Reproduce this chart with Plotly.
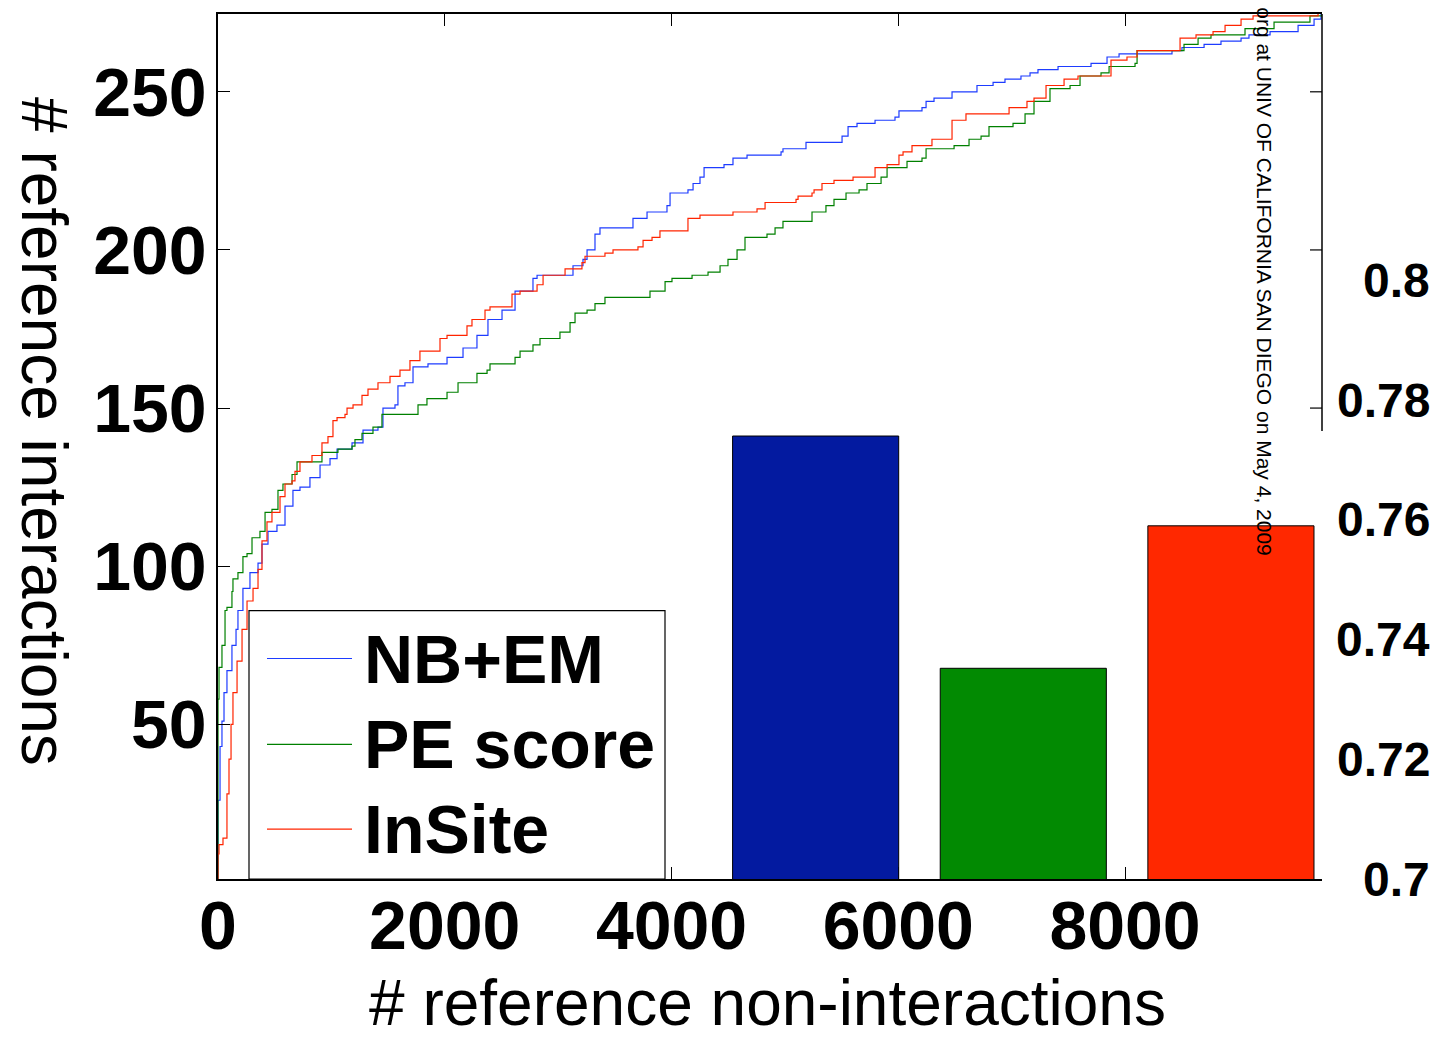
import plotly.graph_objects as go

# ---------------- data ----------------
nbem_x = [0, 0, 18, 35, 53, 79, 123, 159, 176, 220,
          282, 353, 388, 441, 520, 591, 661, 723, 811, 900,
          988, 1050, 1182, 1279, 1411, 1455, 1561, 1587, 1649, 1720,
          1852, 2020, 2161, 2284, 2381, 2505, 2620, 2778, 2814, 3043,
          3131, 3219, 3255, 3325, 3369, 3607, 3660, 3784, 3960, 3987,
          4145, 4190, 4251, 4287, 4463, 4542, 4666, 4966, 4983, 5186,
          5398, 5504, 5557, 5636, 5777, 5795, 5971, 6006, 6139, 6209,
          6245, 6315, 6474, 6624, 6694, 6836, 6941, 7082, 7162, 7232,
          7374, 7409, 7620, 7700, 7841, 7947, 8344, 8414, 8502, 8697,
          8846, 9023, 9093, 9279, 9526, 9667, 9728]
nbem_y = [0, 26, 43, 51, 60, 67, 75, 80, 86, 93,
          98, 101, 107, 111, 113, 119, 124, 125, 128, 132,
          134, 137, 139, 143, 144, 150, 151, 157, 158, 163,
          164, 166, 169, 173, 178, 181, 187, 191, 192, 192,
          195, 197, 200, 205, 207, 207, 210, 212, 214, 218,
          219, 221, 223, 226, 227, 229, 230, 231, 232, 234,
          234, 236, 239, 240, 240, 241, 242, 244, 244, 245,
          247, 248, 250, 250, 252, 253, 254, 255, 256, 257,
          257, 258, 258, 259, 261, 262, 262, 263, 264, 265,
          266, 267, 268, 269, 271, 273, 275]

pe_x = [0, 0, 9, 35, 62, 79, 123, 132, 176, 220,
        256, 300, 370, 415, 476, 529, 573, 653, 697, 882,
        917, 1058, 1182, 1208, 1270, 1358, 1367, 1446, 1738, 1764,
        1843, 2002, 2020, 2117, 2249, 2284, 2373, 2399, 2558, 2620,
        2664, 2778, 2840, 3016, 3105, 3149, 3255, 3325, 3413, 3607,
        3784, 3810, 3916, 3943, 4004, 4181, 4251, 4322, 4428, 4498,
        4578, 4648, 4842, 4913, 4983, 5204, 5239, 5362, 5433, 5539,
        5654, 5724, 5848, 5901, 6077, 6209, 6245, 6492, 6624, 6730,
        6800, 7012, 7118, 7197, 7338, 7515, 7603, 7788, 7859, 8088,
        8106, 8379, 8520, 8644, 8758, 9023, 9058, 9314, 9543, 9631,
        9702, 9737]
pe_y = [0, 58, 68, 75, 86, 87, 92, 96, 98, 103,
        104, 109, 111, 117, 118, 124, 126, 129, 133, 133,
        136, 137, 138, 140, 142, 142, 144, 148, 148, 151,
        153, 153, 155, 158, 158, 161, 162, 164, 164, 166,
        168, 170, 172, 174, 177, 180, 181, 183, 185, 185,
        185, 187, 187, 190, 191, 192, 192, 193, 195, 197,
        200, 204, 205, 207, 209, 209, 212, 214, 216, 218,
        219, 221, 223, 226, 228, 229, 232, 233, 235, 236,
        239, 240, 243, 247, 251, 252, 255, 256, 258, 259,
        263, 263, 265, 267, 268, 268, 270, 272, 272, 274,
        274, 275]

insite_x = [0, 0, 9, 44, 79, 97, 115, 132, 168, 212,
            256, 309, 353, 388, 432, 476, 547, 591, 653, 679,
            723, 811, 829, 882, 917, 970, 1014, 1050, 1120, 1138,
            1191, 1270, 1323, 1411, 1517, 1605, 1693, 1781, 1931, 1958,
            2020, 2161, 2196, 2240, 2311, 2355, 2399, 2487, 2593, 2664,
            2734, 2814, 2867, 3034, 3061, 3131, 3210, 3237, 3396, 3413,
            3484, 3678, 3704, 3749, 3828, 3898, 4075, 4145, 4251, 4525,
            4542, 4754, 4825, 4913, 5098, 5116, 5239, 5257, 5327, 5433,
            5601, 5742, 5795, 5901, 6006, 6042, 6121, 6227, 6297, 6421,
            6474, 6597, 6906, 6977, 7135, 7197, 7303, 7462, 7585, 7788,
            7876, 8017, 8106, 8344, 8485, 8626, 8776, 8882, 9023, 9129,
            9279, 9702]
insite_y = [0, 9, 12, 14, 28, 39, 50, 60, 70, 80,
            89, 93, 99, 108, 114, 117, 122, 126, 127, 130,
            133, 133, 135, 135, 139, 141, 146, 147, 148, 150,
            151, 154, 156, 158, 160, 162, 165, 168, 168, 172,
            173, 173, 176, 178, 178, 181, 182, 182, 186, 187,
            187, 189, 192, 192, 194, 194, 196, 198, 198, 199,
            200, 200, 201, 203, 204, 206, 206, 210, 211, 211,
            212, 213, 215, 215, 216, 217, 218, 219, 221, 222,
            223, 223, 226, 227, 230, 231, 233, 233, 235, 235,
            241, 243, 243, 245, 247, 248, 252, 254, 255, 255,
            260, 261, 263, 263, 267, 268, 269, 271, 273, 274,
            274, 275]

method_names = ["NB+EM", "PE score", "InSite"]
auc_values = [0.774, 0.7352, 0.759]
bar_positions = [1, 2, 3]

x_ticks = [0, 2000, 4000, 6000, 8000]
y_ticks = [50, 100, 150, 200, 250]
auc_ticks = [0.7, 0.72, 0.74, 0.76, 0.78, 0.8]

line_colors = ["#1e3cff", "#008000", "#ff2400"]
bar_colors = ["#031aa0", "#028a02", "#ff2800"]

watermark = "org at UNIV OF CALIFORNIA SAN DIEGO on May 4, 2009"

# ---------------- geometry ----------------
W, H = 1441, 1039
L_PX, R_PX, T_PX, B_PX = 218, 1322, 12, 879
PW = R_PX - L_PX
PH = B_PX - T_PX


def fx(xp):
    return (xp - L_PX) / PW


def fy(yp):
    return (B_PX - yp) / PH


FONT = "Liberation Sans, Arial, Helvetica, sans-serif"

fig = go.Figure()

for xs, ys, c, n in [(nbem_x, nbem_y, line_colors[0], method_names[0]),
                     (pe_x, pe_y, line_colors[1], method_names[1]),
                     (insite_x, insite_y, line_colors[2], method_names[2])]:
    fig.add_trace(go.Scatter(x=xs, y=ys, mode="lines", name=n,
                             line=dict(color=c, width=1.2, shape="hv"),
                             showlegend=False, xaxis="x", yaxis="y",
                             hoverinfo="skip"))

fig.add_trace(go.Bar(x=bar_positions, y=auc_values, width=0.8,
                     marker=dict(color=bar_colors, line=dict(color="black", width=1)),
                     xaxis="x2", yaxis="y2", showlegend=False))

fig.update_layout(
    width=W, height=H,
    margin=dict(l=L_PX, r=W - R_PX, t=T_PX, b=H - B_PX),
    paper_bgcolor="white", plot_bgcolor="rgba(0,0,0,0)",
    font=dict(family=FONT, color="black"),
    xaxis=dict(domain=[0, 1], range=[0, 9737], tickvals=x_ticks,
               ticks="inside", ticklen=12, tickwidth=1.2, tickcolor="black",
               showline=True, linecolor="black", linewidth=1.5, mirror="ticks",
               showgrid=False, zeroline=False, ticklabelstandoff=-13,
               tickfont=dict(size=68, weight="bold", family=FONT)),
    yaxis=dict(domain=[0, 1], range=[1.1, 274.6], tickvals=y_ticks,
               ticks="inside", ticklen=12, tickwidth=1.2, tickcolor="black",
               showline=True, linecolor="black", linewidth=1.5,
               showgrid=False, zeroline=False, ticklabelstandoff=-4,
               tickfont=dict(size=68, weight="bold", family=FONT)),
    xaxis2=dict(domain=[fx(722), 1], anchor="y2", range=[0.549, 3.4386],
                visible=False),
    yaxis2=dict(domain=[0, 1], anchor="x2", range=[0.7, 0.7 + PH / 6000],
                visible=False),
)

shapes = []
# right border of the main axes (upper part) and its ticks
shapes.append(dict(type="line", xref="paper", yref="paper", x0=1, x1=1,
                   y0=fy(430), y1=1, line=dict(color="black", width=1.5)))
for v in [150, 200, 250]:
    shapes.append(dict(type="line", xref="paper", yref="y", x0=fx(1310), x1=1,
                       y0=v, y1=v, line=dict(color="black", width=1.2)))
# legend box
shapes.append(dict(type="rect", xref="paper", yref="paper", x0=fx(249), x1=fx(665),
                   y0=0, y1=fy(610), line=dict(color="black", width=1.2),
                   fillcolor="white", layer="above"))
legend_rows = [658, 744, 829]
for c, r in zip(line_colors, legend_rows):
    shapes.append(dict(type="line", xref="paper", yref="paper", x0=fx(267), x1=fx(352),
                       y0=fy(r), y1=fy(r), line=dict(color=c, width=1.2)))

annotations = []
for n, r in zip(method_names, legend_rows):
    annotations.append(dict(text=n, xref="paper", yref="paper", x=fx(362), y=fy(r),
                            xanchor="left", yanchor="middle", showarrow=False,
                            font=dict(size=68, weight="bold", family=FONT)))
for v in auc_ticks:
    annotations.append(dict(text=f"{v:g}", xref="paper", yref="y2", x=fx(1432), y=v,
                            xanchor="right", yanchor="middle", showarrow=False,
                            font=dict(size=48, weight="bold", family=FONT)))
annotations.append(dict(text="# reference interactions", xref="paper", yref="paper",
                        x=fx(44), y=fy(430), textangle=90, showarrow=False,
                        xanchor="center", yanchor="middle",
                        font=dict(size=64, family=FONT)))
annotations.append(dict(text="# reference non-interactions", xref="paper", yref="paper",
                        x=fx(767), y=fy(1003), showarrow=False,
                        xanchor="center", yanchor="middle",
                        font=dict(size=64, family=FONT)))
annotations.append(dict(text=watermark,
                        xref="paper", yref="paper", x=fx(1265), y=fy(557),
                        textangle=90, showarrow=False, xanchor="center", yanchor="bottom",
                        font=dict(size=21, family=FONT)))

fig.update_layout(shapes=shapes, annotations=annotations)
fig.write_html("out.html")
